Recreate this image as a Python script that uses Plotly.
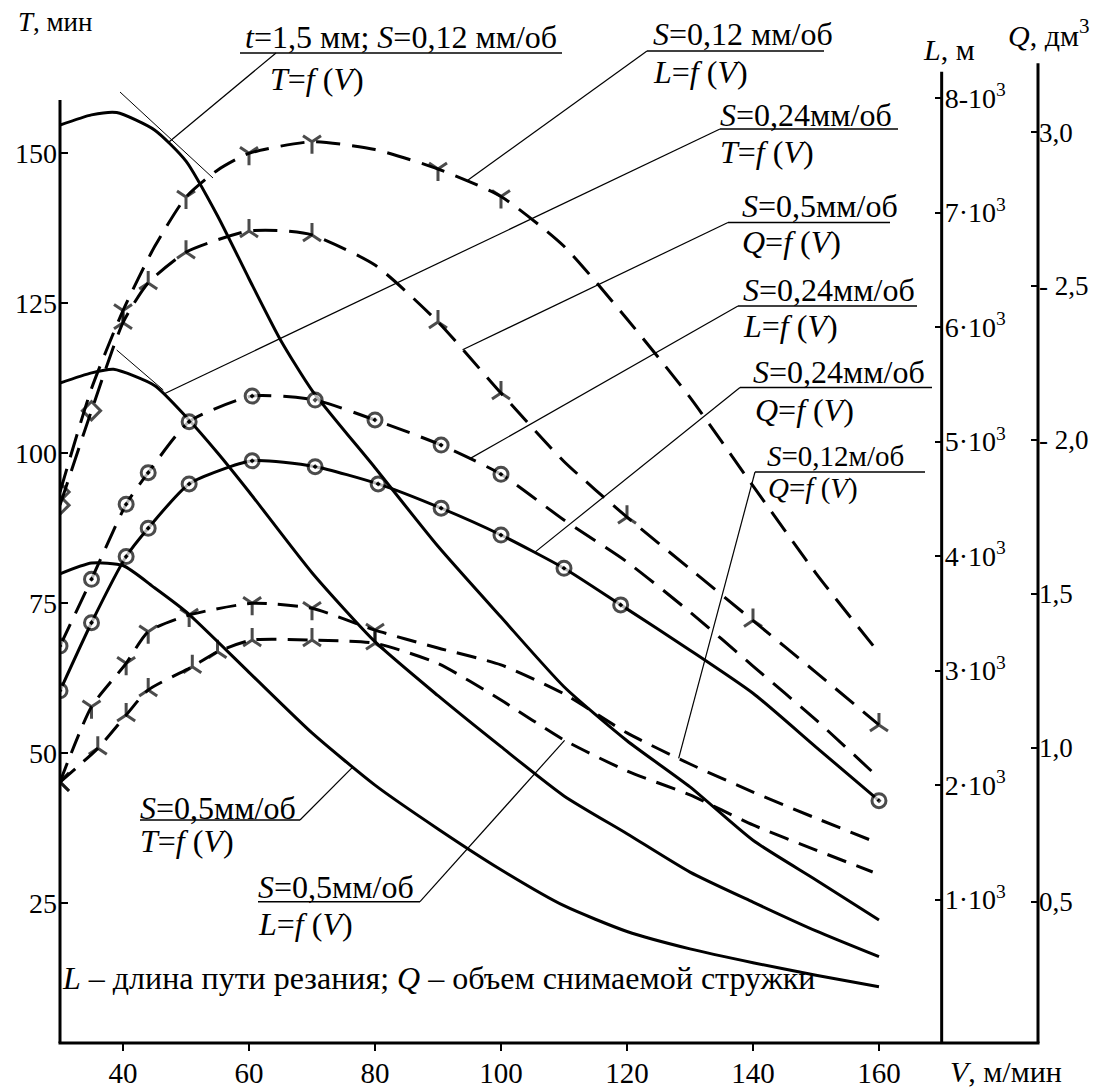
import numpy as np
import plotly.graph_objects as go

# ---------------- data ----------------
V_TICKS = [40, 60, 80, 100, 120, 140, 160]
T_TICKS = [25, 50, 75, 100, 125, 150]
L_TICKS = [1000, 2000, 3000, 4000, 5000, 6000, 7000, 8000]
L_TICKTEXT = ["1·10<sup>3</sup>", "2·10<sup>3</sup>", "3·10<sup>3</sup>", "4·10<sup>3</sup>",
              "5·10<sup>3</sup>", "6·10<sup>3</sup>", "7·10<sup>3</sup>", "8-10<sup>3</sup>"]
Q_TICKS = [0.5, 1.0, 1.5, 2.0, 2.5, 3.0]
Q_TICKTEXT = ["0,5", "1,0", "1,5", "- 2,0", "- 2,5", "3,0"]

# T = f(V), tool life, min (solid)
V_T012 = [30, 35, 39, 45, 50, 55, 60, 65, 70, 80, 90, 100, 110, 120, 130, 140, 150, 160]
T_012 = [154.6, 156.3, 156.7, 153.8, 148.6, 139.5, 129, 118.8, 110.4, 97.5, 84.4, 72.6, 61, 52, 44.3, 35.4, 28.8, 22.1]
V_T024 = [30, 35, 38.5, 45, 50, 55, 60, 70, 80, 90, 100, 110, 120, 130, 140, 150, 160]
T_024 = [111.6, 113.3, 113.9, 111.2, 106, 100, 93.5, 80, 68.5, 59.5, 51, 42.8, 36.5, 30.1, 25.1, 20.3, 16]
V_T05 = [30, 35, 40, 45, 50, 60, 70, 80, 90, 100, 110, 120, 130, 140, 150, 160]
T_05 = [79.8, 81.6, 81.2, 77.5, 73.5, 63.4, 53.3, 44.6, 37.3, 30.5, 24.5, 20.2, 17.3, 15, 12.9, 11]

# L = f(V), cutting path length, m
V_L012 = [30, 35, 40, 45, 50, 55, 60, 70, 80, 90, 100, 110, 120, 130, 140, 150, 160]
L_012 = [4559, 5462, 6144, 6700, 7135, 7370, 7517, 7618, 7550, 7380, 7140, 6705, 6070, 5385, 4612, 3849, 3153]
V_L024 = [30, 35, 40.5, 44, 50.5, 60.5, 70.5, 80, 90.5, 100, 110, 120, 130, 140, 150, 160]
L_024 = [3214, 3797, 4452, 4728, 5173, 5397, 5362, 5188, 4969, 4714, 4314, 3948, 3511, 3039, 2568, 2061]
V_L05 = [30, 36, 40.5, 44, 51, 55, 60.5, 70, 80, 90, 100, 110, 120, 130, 140, 150, 159]
L_05 = [2026, 2320, 2611, 2830, 3033, 3164, 3266, 3266, 3238, 3061, 2742, 2393, 2122, 1913, 1651, 1432, 1240]

# Q = f(V), volume of removed chips, dm3
V_Q012 = [30, 35, 40.5, 44, 50.5, 60.5, 70, 80, 90, 100, 110, 120, 130, 140, 150, 159.5]
Q_012 = [0.889, 1.133, 1.274, 1.377, 1.431, 1.469, 1.453, 1.382, 1.324, 1.269, 1.175, 1.048, 0.947, 0.856, 0.771, 0.693]
V_Q024 = [30, 35, 40.5, 44, 50.5, 60.5, 70.5, 80.5, 90.5, 100, 110, 119, 130, 140, 150, 160]
Q_024 = [1.185, 1.406, 1.621, 1.713, 1.857, 1.932, 1.913, 1.857, 1.778, 1.691, 1.583, 1.464, 1.317, 1.177, 1.002, 0.828]
V_Q05 = [30, 35, 40, 44, 50, 55, 60, 65, 70, 80, 90, 100, 110, 120, 130, 140, 150, 160]
Q_05 = [1.788, 2.095, 2.381, 2.51, 2.61, 2.65, 2.679, 2.68, 2.666, 2.568, 2.383, 2.152, 1.93, 1.749, 1.581, 1.413, 1.245, 1.074]

# speeds at which experimental points are marked, and their symbols
MK_L012 = {30: "diamond-open", 40: "y-down", 50: "y-down", 60: "y-down", 70: "y-down",
           90: "y-down", 100: "y-down"}
MK_Q05 = {30: "diamond-open", 35: "diamond-open", 40: "y-up", 44: "y-up", 50: "y-up",
          60: "y-up", 70: "y-up", 90: "y-up", 100: "y-up", 120: "y-up", 140: "y-up", 160: "y-up"}
MK_L024 = {v: "circle-dot" for v in [30, 35, 40.5, 44, 50.5, 60.5, 70.5, 80, 90.5, 100]}
MK_Q024 = {v: "circle-dot" for v in [30, 35, 40.5, 44, 50.5, 60.5, 70.5, 80.5, 90.5, 100, 110, 119, 160]}
MK_Q012 = {30: "x-thin", 35: "y-down", 40.5: "y-down", 44: "y-down", 50.5: "y-down",
           60.5: "y-down", 70: "y-down", 80: "y-down"}
MK_L05 = {30: "x-thin", 36: "y-up", 40.5: "y-up", 44: "y-up", 51: "y-up", 55: "y-up",
          60.5: "y-up", 70: "y-up", 80: "y-up"}

# ---------------- geometry ----------------
W, H = 1102, 1090
ML, MR, MT, MB = 60, 64, 63, 47
PW, PH = W - ML - MR, H - MT - MB
XDOM = 0.9015
XR = [30, 169.95]
TR = [1.617, 164.95]
LR = [-253.3, 8305.7]
QR = [0.0406, 3.2245]
FONT = "Liberation Serif"


def px_x(px):
    return (px - ML) / PW


def px_y(py):
    return (H - MB - py) / PH


def v2px(v):
    return ML + (v - XR[0]) / (XR[1] - XR[0]) * XDOM * PW


def val2py(val, rng):
    return H - MB - (val - rng[0]) / (rng[1] - rng[0]) * PH


fig = go.Figure()

DASH_A = "24px,12px"
DASH_B = "20px,11px"


def add_curve(v, vals, axis, dash, marks=None):
    marks = marks or {}
    sizes, syms = [], []
    for x in v:
        s = marks.get(x)
        if s is None:
            sizes.append(0)
            syms.append("circle")
        else:
            syms.append(s)
            sizes.append({"circle-dot": 14, "x-thin": 18, "diamond-open": 14}.get(s, 15))
    circ = any(s == "circle-dot" for s in marks.values())
    fig.add_trace(go.Scatter(
        x=v, y=vals, yaxis=axis, mode="lines+markers",
        line=dict(color="black", width=3, dash=dash, shape="spline", smoothing=0.6),
        marker=dict(symbol=syms, size=sizes, color="white" if circ else "black",
                    line=dict(color="black", width=3)),
        hoverinfo="skip"))


# T curves
add_curve(V_T012, T_012, "y", "solid")
add_curve(V_T024, T_024, "y", "solid")
add_curve(V_T05, T_05, "y", "solid")
# L curves
add_curve(V_L012, L_012, "y2", DASH_A, MK_L012)
add_curve(V_L024, L_024, "y2", DASH_A, MK_L024)
add_curve(V_L05, L_05, "y2", DASH_B, MK_L05)
# Q curves
add_curve(V_Q05, Q_05, "y3", DASH_A, MK_Q05)
add_curve(V_Q024, Q_024, "y3", "solid", MK_Q024)
add_curve(V_Q012, Q_012, "y3", DASH_B, MK_Q012)

tickfont = dict(family=FONT, size=28, color="black")
common = dict(showgrid=False, zeroline=False, showline=False, automargin=False,
              tickwidth=2, tickcolor="black")
fig.update_layout(
    template="none",
    width=W, height=H, margin=dict(l=ML, r=MR, t=MT, b=MB, autoexpand=False),
    paper_bgcolor="white", plot_bgcolor="white", showlegend=False,
    font=dict(family=FONT, color="black"),
    xaxis=dict(domain=[0, XDOM], range=XR, ticks="outside", ticklen=7,
               tickvals=V_TICKS, tickfont=dict(family=FONT, size=29, color="black"),
               ticklabelstandoff=-3, **common),
    yaxis=dict(range=TR, ticks="inside", ticklen=8,
               tickvals=T_TICKS, tickfont=tickfont, ticklabelstandoff=2, **common),
    yaxis2=dict(range=LR, overlaying="y", side="right", anchor="x",
                ticks="inside", ticklen=7,
                tickvals=L_TICKS, ticktext=L_TICKTEXT, tickfont=tickfont,
                ticklabelstandoff=2, **common),
    yaxis3=dict(range=QR, overlaying="y", side="right", anchor="free", position=1,
                ticks="inside", ticklen=7,
                tickvals=Q_TICKS, ticktext=Q_TICKTEXT,
                tickfont=dict(family=FONT, size=27, color="black"),
                ticklabelstandoff=0, **common),
)

shapes = []


def pline(x0, y0, x1, y1, w=1.2):
    shapes.append(dict(type="line", xref="paper", yref="paper",
                       x0=px_x(x0), y0=px_y(y0), x1=px_x(x1), y1=px_y(y1),
                       line=dict(color="black", width=w)))


# axis lines
pline(ML, 100, ML, H - MB, 3)
pline(v2px(XR[1]), 71.7, v2px(XR[1]), H - MB, 3)
pline(W - MR, 63.3, W - MR, H - MB, 3)
pline(ML - 1.5, H - MB, W - MR + 1.5, H - MB, 3)

CURVES = {
    "T012": (V_T012, T_012, TR), "T024": (V_T024, T_024, TR), "T05": (V_T05, T_05, TR),
    "L012": (V_L012, L_012, LR), "L024": (V_L024, L_024, LR), "L05": (V_L05, L_05, LR),
    "Q012": (V_Q012, Q_012, QR), "Q024": (V_Q024, Q_024, QR), "Q05": (V_Q05, Q_05, QR),
}


def curve_px(key, v):
    vv, yy, rng = CURVES[key]
    return v2px(v), val2py(float(np.interp(v, vv, yy)), rng)


annotations = []


def text(x, y, s, size=32, anchor="left"):
    annotations.append(dict(x=px_x(x), y=px_y(y), xref="paper", yref="paper",
                            text=s, showarrow=False, xanchor=anchor, yanchor="middle",
                            font=dict(family=FONT, size=size, color="black")))


# label: top text, bottom text, text x, top y, underline y, underline x0, x1, bottom y,
#        size, curve key, speed at leader end, leader start (px), bottom text x
LABELS = [
    ("<i>t</i>=1,5 мм; <i>S</i>=0,12 мм/об", "<i>T</i>=<i>f</i> (<i>V</i>)", 243, 37, 53, 240, 562, 79,
     32, "T012", 47.1, (276, 53), 268),
    ("<i>S</i>=0,12 мм/об", "<i>L</i>=<i>f</i> (<i>V</i>)", 651, 34, 51, 647, 824, 72,
     32, "L012", 94.5, (647, 51), None),
    ("<i>S</i>=0,24мм/об", "<i>T</i>=<i>f</i> (<i>V</i>)", 718, 115, 129, 720, 898, 152,
     32, "T024", 46.4, (720, 129), None),
    ("<i>S</i>=0,5мм/об", "<i>Q</i>=<i>f</i> (<i>V</i>)", 740, 206, 222.5, 728, 890, 242,
     32, "Q05", 93.9, (728, 222.5), None),
    ("<i>S</i>=0,24мм/об", "<i>L</i>=<i>f</i> (<i>V</i>)", 741, 290, 306, 738, 917, 326,
     32, "L024", 95, (738, 306), None),
    ("<i>S</i>=0,24мм/об", "<i>Q</i>=<i>f</i> (<i>V</i>)", 751, 372, 387.5, 740, 932, 410,
     32, "Q024", 105.3, (740, 387.5), 753),
    ("<i>S</i>=0,12м/об", "<i>Q</i>=<i>f</i> (<i>V</i>)", 765, 456, 472, 755, 925, 488,
     29, "Q012", 128.2, (755, 472), 766),
    ("<i>S</i>=0,5мм/об", "<i>T</i>=<i>f</i> (<i>V</i>)", 138, 808, 820, 140, 300, 841,
     32, "T05", 76.5, (300, 820), None),
    ("<i>S</i>=0,5мм/об", "<i>L</i>=<i>f</i> (<i>V</i>)", 256, 887, 901.7, 258, 420, 924,
     32, "L05", 110.1, (420, 901.7), None),
]

for top, bot, tx, ty, uy, ux0, ux1, by, fs, key, vlead, lstart, bx in LABELS:
    text(tx, ty, top, fs)
    text(bx if bx else tx, by, bot, fs)
    pline(ux0, uy, ux1, uy, 1.5)
    cx, cy = curve_px(key, vlead)
    pline(lstart[0], lstart[1], cx, cy, 1.2)

# tangent marks at the maxima of the tool-life curves
pline(120, 92, 213, 178, 1.0)
pline(116.7, 350, 163.3, 390, 1.0)

# axis titles
text(16, 22, "<i>T</i>, мин", 27)
text(921, 50, "<i>L</i>, м", 30)
text(1006, 33, "<i>Q</i>, дм<sup>3</sup>", 30)
text(948, 1071, "<i>V</i>, м/мин", 30)
# footnote
text(60, 978, "<i>L</i> – длина пути резания; <i>Q</i> – объем снимаемой стружки", 32)

fig.update_layout(shapes=shapes, annotations=annotations)
fig.write_html("out.html", config={"displayModeBar": False},
               post_script="document.body.style.margin='0';")
